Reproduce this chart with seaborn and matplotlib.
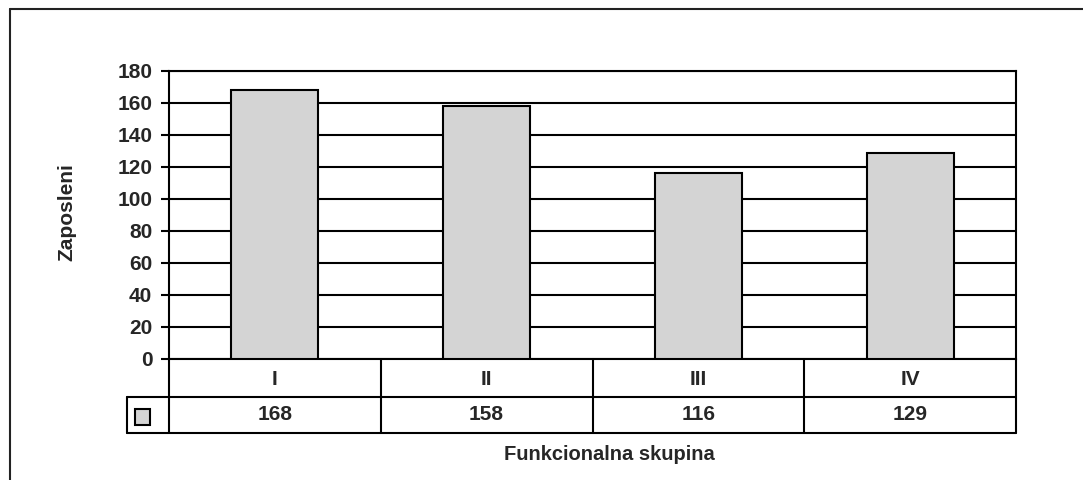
import matplotlib
matplotlib.use("Agg")
import matplotlib.pyplot as plt
import seaborn as sns
import pandas as pd
from matplotlib.lines import Line2D
from matplotlib.patches import Rectangle

# chart data
groups = ["I", "II", "III", "IV"]
employees = [168, 158, 116, 129]
y_ticks = [0, 20, 40, 60, 80, 100, 120, 140, 160, 180]

df = pd.DataFrame({"skupina": groups, "zaposleni": employees})

sns.set_style("white")
plt.rcParams["font.family"] = ["Liberation Sans", "DejaVu Sans"]
plt.rcParams["font.weight"] = "bold"

W, H = 1083, 480
fig = plt.figure(figsize=(W / 100, H / 100), dpi=100)
# plot area in pixels: x 169..1016, y 71..359
ax = fig.add_axes([169 / W, (H - 359) / H, 847 / W, 288 / H])

sns.barplot(data=df, x="skupina", y="zaposleni", color="#d4d4d4", saturation=1,
            width=0.41, edgecolor="black", linewidth=1.5, ax=ax, zorder=3)

ax.set_ylim(0, 180)
ax.set_yticks(y_ticks)
ax.set_yticklabels([str(t) for t in y_ticks], fontsize=15, fontweight="bold")
ax.tick_params(axis="y", length=6, width=1.5, color="black", pad=6, left=True)
ax.yaxis.grid(True, color="black", linewidth=1.5, zorder=0)
ax.set_axisbelow(True)

for s in ax.spines.values():
    s.set_visible(True)
    s.set_color("black")
    s.set_linewidth(1.5)

# category labels sit in the first table row
ax.tick_params(axis="x", length=0, pad=8, labelsize=15)
for lbl in ax.get_xticklabels():
    lbl.set_fontweight("bold")

ax.set_ylabel("Zaposleni", fontsize=15, fontweight="bold")
ax.yaxis.set_label_coords(-0.109, 0.51)
ax.set_xlabel("Funkcionalna skupina", fontsize=14.5, fontweight="bold")
ax.xaxis.set_label_coords(0.5195, -0.30)

# data table below the plot (axes coordinates)
r1 = -38 / 288
r2 = -74 / 288
key_left = -42 / 847
tr = ax.transAxes
lw = 1.5
lines = [
    ([0, 0], [0, r2]),
    ([1, 1], [0, r2]),
    ([key_left, 1], [r1, r1]),
    ([key_left, 1], [r2, r2]),
    ([key_left, key_left], [r1, r2]),
]
for i in range(1, len(groups)):
    xx = i / len(groups)
    lines.append(([xx, xx], [0, r2]))
for xs, ys in lines:
    ax.add_line(Line2D(xs, ys, transform=tr, color="black", lw=lw, clip_on=False))

for i, v in enumerate(employees):
    ax.text((i + 0.5) / len(groups), (r1 + r2) / 2, str(v), transform=tr,
            ha="center", va="center", fontsize=15, fontweight="bold")

# legend key
ax.add_patch(Rectangle((-34 / 847, -66 / 288), 15 / 847, 16 / 288, transform=tr,
                       facecolor="#d4d4d4", edgecolor="black", lw=1.5, clip_on=False))

# outer chart frame (clipped by the image edge)
fig.add_artist(Line2D([10 / W, 10 / W], [0, (H - 9) / H], color="#222222", lw=1.5))
fig.add_artist(Line2D([10 / W, 1], [(H - 9) / H, (H - 9) / H], color="#222222", lw=1.5))

fig.savefig("out.png", dpi=100, facecolor="white")
